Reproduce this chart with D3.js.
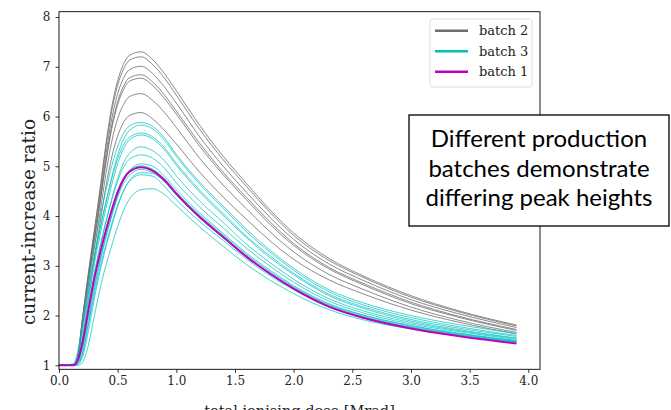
<!DOCTYPE html>
<html>
<head>
<meta charset="utf-8">
<script src="https://cdn.jsdelivr.net/npm/d3@7"></script>
<style>
  html, body { margin: 0; padding: 0; background: #fff; }
  svg { display: block; }
</style>
</head>
<body>
<svg id="chart" width="671" height="410"></svg>
<script>
// Dose grid shared by every sample curve [Mrad]
const doses = [0, 0.12, 0.16, 0.2, 0.25, 0.3, 0.35, 0.4, 0.45, 0.5, 0.55, 0.6, 0.7, 0.8, 0.9, 1.0, 1.2, 1.4, 1.6, 1.8, 2.0, 2.3, 2.6, 3.0, 3.4, 3.9];

// Current-increase ratio per sample, batch 2
const batch2 = [
  [1.00, 1.00, 1.19, 1.95, 2.85, 3.70, 4.55, 5.45, 6.20, 6.72, 7.05, 7.23, 7.30, 7.14, 6.86, 6.52, 5.82, 5.20, 4.65, 4.12, 3.66, 3.15, 2.79, 2.40, 2.10, 1.81],
  [1.00, 1.00, 1.19, 1.94, 2.82, 3.66, 4.49, 5.38, 6.12, 6.63, 6.95, 7.13, 7.20, 7.04, 6.77, 6.43, 5.74, 5.13, 4.59, 4.07, 3.61, 3.11, 2.76, 2.37, 2.08, 1.79],
  [1.00, 1.00, 1.18, 1.91, 2.77, 3.58, 4.38, 5.24, 5.96, 6.46, 6.77, 6.94, 7.01, 6.86, 6.59, 6.27, 5.59, 5.00, 4.47, 3.97, 3.53, 3.04, 2.70, 2.32, 2.04, 1.76],
  [1.00, 1.00, 1.18, 1.88, 2.72, 3.51, 4.29, 5.12, 5.82, 6.30, 6.61, 6.78, 6.84, 6.69, 6.43, 6.11, 5.46, 4.88, 4.37, 3.88, 3.45, 2.97, 2.64, 2.27, 1.99, 1.72],
  [1.00, 1.00, 1.17, 1.87, 2.70, 3.48, 4.25, 5.07, 5.76, 6.24, 6.54, 6.71, 6.77, 6.62, 6.36, 6.05, 5.40, 4.83, 4.32, 3.83, 3.41, 2.94, 2.61, 2.24, 1.97, 1.70],
  [1.00, 1.00, 1.16, 1.82, 2.61, 3.34, 4.07, 4.85, 5.50, 5.96, 6.24, 6.40, 6.46, 6.32, 6.08, 5.78, 5.16, 4.62, 4.14, 3.68, 3.28, 2.83, 2.52, 2.17, 1.91, 1.66],
  [1.00, 1.00, 1.15, 1.77, 2.49, 3.18, 3.86, 4.59, 5.19, 5.61, 5.88, 6.02, 6.08, 5.95, 5.72, 5.45, 4.88, 4.38, 3.93, 3.50, 3.13, 2.72, 2.43, 2.11, 1.87, 1.63]
];

// Current-increase ratio per sample, batch 3
const batch3 = [
  [1.00, 1.03, 1.29, 1.85, 2.66, 3.38, 3.98, 4.52, 5.01, 5.40, 5.66, 5.81, 5.88, 5.80, 5.57, 5.24, 4.68, 4.20, 3.73, 3.31, 2.95, 2.52, 2.25, 2.00, 1.82, 1.64],
  [1.00, 1.00, 1.12, 1.55, 2.33, 3.10, 3.73, 4.28, 4.79, 5.23, 5.54, 5.72, 5.83, 5.75, 5.52, 5.20, 4.64, 4.16, 3.68, 3.27, 2.91, 2.48, 2.21, 1.96, 1.78, 1.60],
  [1.00, 1.01, 1.20, 1.67, 2.44, 3.15, 3.75, 4.27, 4.75, 5.15, 5.43, 5.58, 5.67, 5.59, 5.37, 5.06, 4.52, 4.05, 3.59, 3.20, 2.85, 2.43, 2.17, 1.92, 1.75, 1.58],
  [1.00, 1.00, 1.12, 1.52, 2.28, 3.01, 3.62, 4.15, 4.63, 5.05, 5.35, 5.53, 5.63, 5.55, 5.33, 5.02, 4.48, 4.01, 3.56, 3.16, 2.82, 2.40, 2.14, 1.89, 1.72, 1.55],
  [1.00, 1.00, 1.07, 1.38, 2.06, 2.77, 3.37, 3.88, 4.35, 4.76, 5.07, 5.26, 5.39, 5.31, 5.11, 4.81, 4.30, 3.87, 3.43, 3.06, 2.73, 2.34, 2.09, 1.86, 1.70, 1.54],
  [1.00, 1.00, 1.11, 1.48, 2.17, 2.84, 3.39, 3.88, 4.32, 4.70, 4.98, 5.14, 5.23, 5.16, 4.96, 4.67, 4.18, 3.76, 3.35, 2.99, 2.67, 2.29, 2.05, 1.83, 1.68, 1.52],
  [1.00, 1.00, 1.03, 1.24, 1.85, 2.51, 3.08, 3.57, 4.02, 4.41, 4.71, 4.91, 5.05, 5.00, 4.80, 4.53, 4.06, 3.65, 3.25, 2.91, 2.60, 2.24, 2.01, 1.80, 1.65, 1.50],
  [1.00, 1.00, 1.10, 1.45, 2.11, 2.74, 3.27, 3.73, 4.15, 4.51, 4.77, 4.92, 5.01, 4.94, 4.75, 4.48, 4.02, 3.62, 3.22, 2.88, 2.58, 2.22, 2.00, 1.79, 1.64, 1.49],
  [1.00, 1.00, 1.06, 1.34, 1.95, 2.59, 3.12, 3.59, 4.01, 4.38, 4.65, 4.82, 4.94, 4.87, 4.69, 4.42, 3.96, 3.57, 3.18, 2.85, 2.55, 2.20, 1.98, 1.77, 1.63, 1.48],
  [1.00, 1.00, 1.02, 1.16, 1.68, 2.32, 2.89, 3.37, 3.80, 4.19, 4.50, 4.71, 4.87, 4.86, 4.69, 4.44, 3.96, 3.56, 3.17, 2.83, 2.54, 2.19, 1.96, 1.76, 1.61, 1.47],
  [1.00, 1.00, 1.03, 1.23, 1.80, 2.42, 2.97, 3.43, 3.85, 4.22, 4.51, 4.70, 4.83, 4.80, 4.59, 4.33, 3.89, 3.51, 3.13, 2.80, 2.52, 2.17, 1.96, 1.75, 1.61, 1.47],
  [1.00, 1.00, 1.00, 1.06, 1.40, 1.98, 2.54, 3.01, 3.41, 3.79, 4.11, 4.34, 4.53, 4.55, 4.43, 4.21, 3.78, 3.39, 3.02, 2.71, 2.44, 2.12, 1.91, 1.73, 1.59, 1.46]
];

// Current-increase ratio, batch 1
const batch1 = [
  [1.00, 1.00, 1.10, 1.45, 2.10, 2.73, 3.25, 3.71, 4.12, 4.48, 4.74, 4.89, 4.98, 4.91, 4.72, 4.45, 3.98, 3.58, 3.18, 2.84, 2.54, 2.18, 1.95, 1.74, 1.59, 1.44]
];

const xTicks = [0.0, 0.5, 1.0, 1.5, 2.0, 2.5, 3.0, 3.5, 4.0];
const yTicks = [1, 2, 3, 4, 5, 6, 7, 8];
const legendLabels = ["batch 2", "batch 3", "batch 1"];
const noteLines = ["Different production", "batches demonstrate", "differing peak heights"];

const svg = d3.select("#chart");
const plot = { left: 59, right: 540, top: 11.7, bottom: 369.3 };

const x = d3.scaleLinear().domain([0, 4.1]).range([plot.left, plot.right]);
const y = d3.scaleLinear().domain([0.92, 8.107]).range([plot.bottom, plot.top]);

const serif = "'DejaVu Serif', 'Liberation Serif', serif";

const line = d3.line()
  .x((d, i) => x(doses[i]))
  .y(d => y(d))
  .curve(d3.curveMonotoneX);

const groups = [
  { data: batch2, color: "#6e6e6e", width: 0.9, opacity: 0.9 },
  { data: batch3, color: "#00bfbf", width: 0.9, opacity: 0.8 },
  { data: batch1, color: "#bf00bf", width: 2.0, opacity: 1 }
];

const curves = svg.append("g");
groups.forEach(g => {
  curves.append("g")
    .selectAll("path")
    .data(g.data)
    .join("path")
    .attr("d", line)
    .attr("fill", "none")
    .attr("stroke", g.color)
    .attr("stroke-width", g.width)
    .attr("stroke-opacity", g.opacity)
    .attr("stroke-linejoin", "round");
});

// Axes
const xAxis = svg.append("g")
  .attr("transform", `translate(0,${plot.bottom})`)
  .call(d3.axisBottom(x).tickValues(xTicks).tickFormat(d3.format(".1f")).tickSize(3.5).tickPadding(4));
const yAxis = svg.append("g")
  .attr("transform", `translate(${plot.left},0)`)
  .call(d3.axisLeft(y).tickValues(yTicks).tickFormat(d3.format("d")).tickSize(3.5).tickPadding(5));

[xAxis, yAxis].forEach(a => {
  a.select(".domain").remove();
  a.selectAll(".tick line").attr("stroke", "#000").attr("stroke-width", 0.8);
  a.selectAll(".tick text").attr("fill", "#222").style("font-family", serif).style("font-size", "12px");
});

// Frame
svg.append("rect")
  .attr("x", plot.left).attr("y", plot.top)
  .attr("width", plot.right - plot.left).attr("height", plot.bottom - plot.top)
  .attr("fill", "none").attr("stroke", "#000").attr("stroke-width", 0.9);

// Axis titles
svg.append("text")
  .attr("x", (plot.left + plot.right) / 2).attr("y", 416)
  .attr("text-anchor", "middle")
  .style("font-family", serif).style("font-size", "14.5px").attr("fill", "#222")
  .text("total ionising dose [Mrad]");

svg.append("text")
  .attr("transform", "translate(35,222) rotate(-90)")
  .attr("text-anchor", "middle")
  .style("font-family", serif).style("font-size", "18.5px").attr("fill", "#222")
  .text("current-increase ratio");

// Legend
const legend = svg.append("g").attr("transform", "translate(430,19)");
legend.append("rect")
  .attr("width", 102).attr("height", 68).attr("rx", 3)
  .attr("fill", "#fff").attr("fill-opacity", 0.85)
  .attr("stroke", "#d6d6d6").attr("stroke-width", 0.8);
const legendColors = ["#6e6e6e", "#00bfbf", "#bf00bf"];
legendLabels.forEach((lab, i) => {
  const yy = 11.7 + i * 20.5;
  legend.append("line")
    .attr("x1", 5).attr("x2", 38).attr("y1", yy).attr("y2", yy)
    .attr("stroke", legendColors[i]).attr("stroke-width", 2.5);
  legend.append("text")
    .attr("x", 49).attr("y", yy + 4.5)
    .style("font-family", serif).style("font-size", "13px").attr("fill", "#222")
    .text(lab);
});

// Annotation box
const note = svg.append("g");
note.append("rect")
  .attr("x", 409).attr("y", 115).attr("width", 260).attr("height", 111)
  .attr("fill", "#fff").attr("stroke", "#000").attr("stroke-width", 1.3);
noteLines.forEach((t, i) => {
  note.append("text")
    .attr("x", 539).attr("y", 147 + i * 29.5)
    .attr("text-anchor", "middle")
    .style("font-family", "Lato, 'Open Sans', sans-serif").style("font-size", "24px").attr("fill", "#000")
    .text(t);
});
</script>
</body>
</html>
